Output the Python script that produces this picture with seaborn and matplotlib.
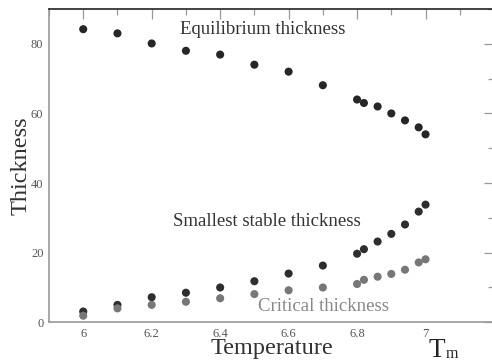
import matplotlib
matplotlib.use("Agg")
import matplotlib.pyplot as plt
import seaborn as sns
import pandas as pd
from matplotlib.ticker import MultipleLocator

temperature = [6.0, 6.1, 6.2, 6.3, 6.4, 6.5, 6.6, 6.7, 6.8, 6.82, 6.86, 6.9, 6.94, 6.98, 7.0]
equilibrium = [84.2, 83.0, 80.1, 78.0, 76.9, 74.0, 72.0, 68.1, 64.0, 63.0, 62.0, 60.0, 58.0, 56.0, 54.0]
smallest_stable = [3.1, 5.0, 7.2, 8.5, 10.0, 11.8, 14.0, 16.3, 19.7, 21.0, 23.2, 25.4, 28.1, 31.8, 33.8]
critical = [1.9, 4.0, 5.0, 5.9, 6.9, 8.1, 9.2, 10.0, 11.0, 12.2, 13.1, 13.9, 15.1, 17.2, 18.1]
x_ticks = [6.0, 6.2, 6.4, 6.6, 6.8, 7.0]
x_tick_labels = ["6", "6.2", "6.4", "6.6", "6.8", "7"]
y_ticks = [0, 20, 40, 60, 80]

sns.set_theme(style="white")
plt.rcParams["font.family"] = ["Liberation Serif", "DejaVu Serif"]

df = pd.concat([
    pd.DataFrame({"T": temperature, "d": equilibrium, "s": "eq"}),
    pd.DataFrame({"T": temperature, "d": smallest_stable, "s": "st"}),
    pd.DataFrame({"T": temperature, "d": critical, "s": "cr"}),
])

fig = plt.figure(figsize=(4.92, 3.62), dpi=100)
ax = fig.add_axes([49/492, 1 - 322.3/362, (494 - 49)/492, (322.3 - 9)/362])
palette = {"eq": "#262626", "st": "#2e2e2e", "cr": "#777777"}
sns.scatterplot(data=df, x="T", y="d", hue="s", palette=palette, s=34,
                edgecolor="none", legend=False, ax=ax)

ax.set_xlim(5.9, 7.2)
ax.set_ylim(0, 90)
ax.set_xticks(x_ticks)
ax.set_xticklabels(x_tick_labels)
ax.set_yticks(y_ticks)
ax.xaxis.set_minor_locator(MultipleLocator(0.1))
ax.yaxis.set_minor_locator(MultipleLocator(10))
ax.tick_params(which="major", direction="in", length=7, width=0.9, color="#999999",
               top=True, right=True, labelsize=9, labelcolor="#555555", pad=4)
ax.tick_params(which="minor", direction="in", length=4, width=0.9, color="#999999",
               top=True, right=True)
for side in ["left", "bottom", "right"]:
    ax.spines[side].set_color("#999999")
    ax.spines[side].set_linewidth(1.2)
ax.spines["top"].set_color("#222222")
ax.spines["top"].set_linewidth(1.2)

ax.set_xlabel("Temperature", fontsize=17.5, color="#333333", labelpad=-1)
ax.set_ylabel("Thickness", fontsize=17.5, color="#333333", labelpad=-0.5)

ax.text(6.283, 84.1, "Equilibrium thickness", fontsize=13.5, color="#333333", va="center")
ax.text(6.263, 28.9, "Smallest stable thickness", fontsize=13.5, color="#333333", va="center")
ax.text(6.51, 4.4, "Critical thickness", fontsize=13.5, color="#888888", va="center")
ax.text(7.008, -9.9, "T", fontsize=19.5, color="#222222", ha="left", va="baseline", clip_on=False)
ax.text(7.058, -10.2, "m", fontsize=11.5, color="#222222", ha="left", va="baseline", clip_on=False)

fig.savefig("out.png", dpi=100)
